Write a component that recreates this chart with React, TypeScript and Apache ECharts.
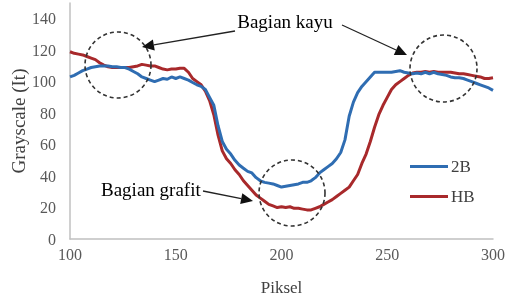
import React, { useEffect, useRef } from "react";
import * as echarts from "echarts";

const piksel = [
  100, 102, 104, 106, 108, 110, 112, 114, 116, 118, 120, 122, 124, 126, 128, 130, 132, 134, 136, 138,
  140, 142, 144, 146, 148, 150, 152, 154, 156, 158, 160, 162, 164, 166, 168, 170, 172, 174, 176, 178,
  180, 182, 184, 186, 188, 190, 192, 194, 196, 198, 200, 202, 204, 206, 208, 210, 212, 214, 216, 218,
  220, 222, 224, 226, 228, 230, 232, 234, 236, 238, 240, 242, 244, 246, 248, 250, 252, 254, 256, 258,
  260, 262, 264, 266, 268, 270, 272, 274, 276, 278, 280, 282, 284, 286, 288, 290, 292, 294, 296, 298,
  300,
];

const values2B = [
  103, 104, 105.5, 107, 108, 109, 109.5, 110, 110, 110, 109.5, 109.5, 109, 109, 108, 106.5, 105, 103, 102, 101,
  100, 101, 102, 101.5, 103, 102, 103, 102, 101, 99.5, 98, 97, 95, 90, 85, 72, 62, 57, 54, 50,
  47, 45, 43, 42, 39, 37, 36, 35.5, 35, 34, 33, 33.5, 34, 34.5, 35, 36, 36, 37, 39, 42,
  44, 46, 48, 51, 55, 63, 78, 87, 93, 97, 100, 103, 106, 106, 106, 106, 106, 106.5, 107, 106,
  105.5, 105, 105.5, 105, 106, 105, 106, 105, 104.5, 104, 103, 102.5, 102.5, 102, 101, 100, 99, 98, 97, 96,
  94.5,
];

const valuesHB = [
  119, 118, 117.5, 117, 116, 115, 114, 112, 110.5, 109.5, 109, 109, 109, 109, 109, 109.5, 110, 111, 110.5, 110,
  110, 109, 108, 107.5, 108, 108, 108.5, 108.5, 106, 102, 100, 98, 94, 88, 79, 66, 56, 51, 48, 44,
  41, 37, 34, 31, 28, 26, 24, 22, 21, 20, 20.5, 20, 20.5, 19.5, 19.5, 19, 18.5, 18.5, 19.5, 20.5,
  22, 23.5, 25, 27, 29, 31, 33, 37, 41, 48, 54, 62, 71, 79, 85, 90, 95, 98, 100, 102,
  104, 105.5, 106, 106, 106.5, 106, 106.5, 106, 106, 106, 106, 105.5, 105, 105, 104.5, 104, 103.5, 103, 102, 102,
  102.5,
];

const seriesNames = ["2B", "HB"];
const colors = ["#2f6db2", "#a8292b"];

const FONT = '"Liberation Serif", "Times New Roman", serif';

function arrow(x1: number, y1: number, x2: number, y2: number) {
  const dx = x2 - x1;
  const dy = y2 - y1;
  const len = Math.sqrt(dx * dx + dy * dy);
  const ux = dx / len;
  const uy = dy / len;
  const hl = 12;
  const hw = 5.5;
  const bx = x2 - ux * hl;
  const by = y2 - uy * hl;
  return [
    {
      type: "line",
      shape: { x1, y1, x2: bx, y2: by },
      style: { stroke: "#222", lineWidth: 1.3 },
      z: 100,
    },
    {
      type: "polygon",
      shape: {
        points: [
          [x2, y2],
          [bx - uy * hw, by + ux * hw],
          [bx + uy * hw, by - ux * hw],
        ],
      },
      style: { fill: "#111" },
      z: 100,
    },
  ];
}

function circle(cx: number, cy: number, r: number) {
  return {
    type: "circle",
    shape: { cx, cy, r },
    style: { fill: "none", stroke: "#333", lineWidth: 1.6, lineDash: [4, 3] },
    z: 100,
  };
}

export default function App() {
  const ref = useRef<HTMLDivElement>(null);
  useEffect(() => {
    if (!ref.current) return;
    const chart = echarts.init(ref.current, undefined, { renderer: "svg" });
    const mk = (vals: number[]) => piksel.map((p, i) => [p, vals[i]]);
    chart.setOption({
      animation: false,
      grid: { left: 70, right: 12, top: 3, bottom: 58, containLabel: false, outerBoundsMode: "none" },
      xAxis: {
        type: "value",
        min: 100,
        max: 300,
        interval: 50,
        name: "Piksel",
        nameLocation: "middle",
        nameGap: 40,
        nameMoveOverlap: false,
        nameTextStyle: { fontFamily: FONT, fontSize: 17, color: "#404040" },
        axisLine: { show: true, lineStyle: { color: "#c0c0c0", width: 1.5 } },
        axisTick: { show: false },
        splitLine: { show: false },
        axisLabel: { fontFamily: FONT, fontSize: 16, color: "#595959", margin: 7 },
      },
      yAxis: {
        type: "value",
        min: 0,
        max: 150,
        interval: 20,
        name: "Grayscale (It)",
        nameLocation: "middle",
        nameGap: 42,
        nameMoveOverlap: false,
        nameTextStyle: { fontFamily: FONT, fontSize: 19, color: "#404040" },
        axisLine: { show: true, lineStyle: { color: "#c0c0c0", width: 1.5 } },
        axisTick: { show: false },
        splitLine: { show: false },
        axisLabel: {
          fontFamily: FONT,
          fontSize: 16,
          color: "#595959",
          margin: 14,
          formatter: (v: number) => (v % 20 === 0 ? String(v) : ""),
        },
      },
      legend: {
        orient: "vertical",
        left: 405,
        top: 153,
        icon: "rect",
        itemWidth: 38,
        itemHeight: 3,
        itemGap: 13,
        data: seriesNames,
        textStyle: { fontFamily: FONT, fontSize: 17, color: "#404040", padding: [0, 0, 0, -2] },
      },
      series: [
        {
          name: seriesNames[0],
          type: "line",
          data: mk(values2B),
          symbol: "none",
          lineStyle: { color: colors[0], width: 3 },
          itemStyle: { color: colors[0] },
          z: 3,
        },
        {
          name: seriesNames[1],
          type: "line",
          data: mk(valuesHB),
          symbol: "none",
          lineStyle: { color: colors[1], width: 3 },
          itemStyle: { color: colors[1] },
          z: 2,
        },
      ],
      graphic: [
        circle(118, 65, 33),
        circle(443.5, 68.5, 33.5),
        circle(292, 193, 33),
        ...arrow(235, 31, 142, 47),
        ...arrow(342, 25, 407, 55),
        ...arrow(203, 191, 253, 201),
        {
          type: "text",
          x: 285,
          y: 21,
          z: 100,
          style: {
            text: "Bagian kayu",
            font: `19px ${FONT}`,
            fill: "#000",
            align: "center",
            verticalAlign: "middle",
          },
        },
        {
          type: "text",
          x: 101,
          y: 189,
          z: 100,
          style: {
            text: "Bagian grafit",
            font: `19px ${FONT}`,
            fill: "#000",
            align: "left",
            verticalAlign: "middle",
          },
        },
      ],
    });
    return () => chart.dispose();
  }, []);
  return (
    <div
      ref={ref}
      style={{ position: "fixed", left: 0, top: 0, width: 505, height: 297 }}
    />
  );
}
